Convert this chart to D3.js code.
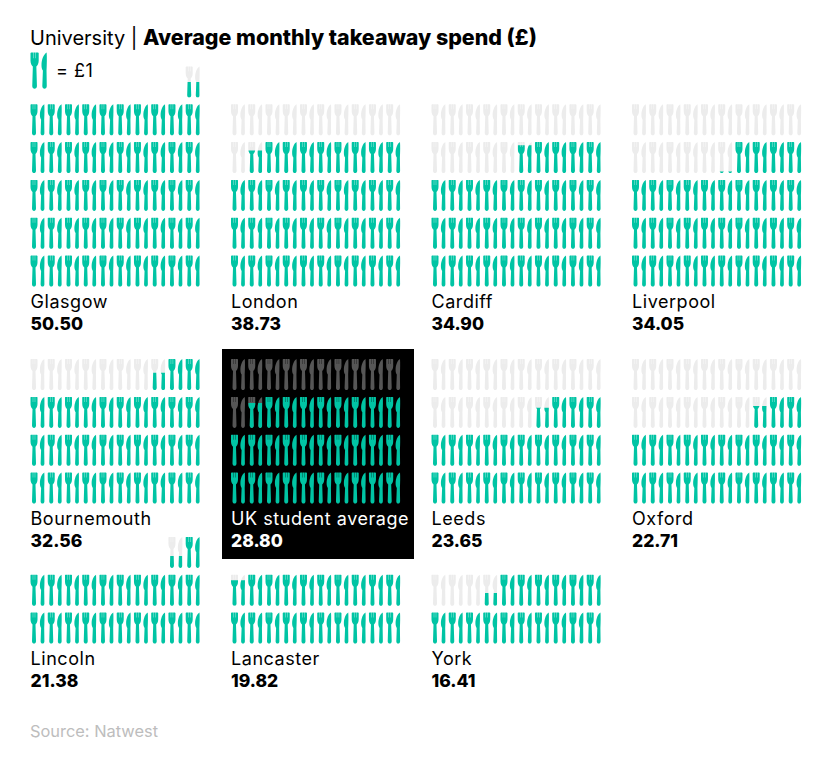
<!DOCTYPE html>
<html>
<head>
<meta charset="utf-8">
<script src="https://cdn.jsdelivr.net/npm/d3@7"></script>
<style>
  html, body { margin: 0; padding: 0; background: #fff; }
  text { font-family: "Inter", "Noto Sans", sans-serif; fill: #000; }
  .label { letter-spacing: 0.55px; }
</style>
</head>
<body>
<div id="chart"></div>
<script>
const FRAME_WIDTH = 830;
const FRAME_HEIGHT = 766;

const UNIVERSITIES = ["Glasgow", "London", "Cardiff", "Liverpool",
                      "Bournemouth", "UK student average", "Leeds", "Oxford",
                      "Lincoln", "Lancaster", "York"];
const SPEND = [50.50, 38.73, 34.90, 34.05,
               32.56, 28.80, 23.65, 22.71,
               21.38, 19.82, 16.41];
const SPEND_LABELS = ["50.50", "38.73", "34.90", "34.05",
                      "32.56", "28.80", "23.65", "22.71",
                      "21.38", "19.82", "16.41"];
// how many panels on each line of the page and how many £10 rows each line pads to
const PANELS_PER_LINE = 4;
const LINE_ROWS = [5, 4, 2];
const HIGHLIGHT = "UK student average";

const TEAL = "#00c4a4";
const GREY = "#ececec";
const GREY_DARK = "#565656";

const ICON_W = 14;
const ICON_H = 31;
const PER_ROW = 10;
const ROW_STEP = 37.8;

// fork and knife in one path, 14 x 31 units
const ICON_PATH = "M0 0.4V7C0 9.6 1.2 11.2 2 12L1.5 28.7C1.5 30.2 2.5 31 3.5 31C4.5 31 5.5 30.2 5.5 28.7L5 12C5.8 11.2 7 9.6 7 7V0.4Q7 0 6.4 0H4.65V5H4.35V0H2.65V5H2.35V0H0.6Q0 0 0 0.4Z"
  + "M13.8 0C11.3 1.4 9.4 6 9.4 10.8C9.4 12.8 9.9 14.4 10.6 15.4L10.1 28.7C10.1 30.2 11 31 12 31C13 31 13.9 30.2 13.9 28.7L13.7 15.5C14 10 14.1 4 13.8 0Z";

const PANEL_X = d3.scalePoint().domain(d3.range(PANELS_PER_LINE)).range([30.5, 632]);
// y of the bottom icon row for each line of panels
const LINE_BOTTOM = d3.scaleOrdinal().domain([0, 1, 2]).range([255.5, 472.5, 612.5]);
const COL_X = d3.scaleLinear().domain([0, PER_ROW - 1]).range([0, 155.2]);
const ROW_Y = d3.scaleLinear().domain([0, 1]).range([0, -ROW_STEP]);
// how far the fill climbs from the foot of an icon
const FILL_Y = d3.scaleLinear().domain([0, 1]).range([ICON_H, 0]);

const SVG = d3.select("#chart")
  .append("svg")
    .attr("width", FRAME_WIDTH)
    .attr("height", FRAME_HEIGHT)
    .style("display", "block");

// title
const title = SVG.append("text")
    .attr("x", 30)
    .attr("y", 45);
title.append("tspan").text("University | ").attr("font-weight", 400).attr("font-size", 20);
title.append("tspan").text("Average monthly takeaway spend (£)").attr("font-weight", 800).attr("font-size", 21.4);

// legend
SVG.append("path")
    .attr("d", ICON_PATH)
    .attr("transform", "translate(30.5,52.5) scale(1.17)")
    .attr("fill", TEAL);
SVG.append("text")
    .attr("class", "label")
    .attr("x", 56)
    .attr("y", 77)
    .attr("font-size", 18)
    .text("= £1");

// highlight box sits behind the average panel
const hlIndex = UNIVERSITIES.indexOf(HIGHLIGHT);
SVG.append("rect")
    .attr("x", PANEL_X(hlIndex % PANELS_PER_LINE) - 9)
    .attr("y", 349)
    .attr("width", 192)
    .attr("height", 210)
    .attr("fill", "#000");

UNIVERSITIES.forEach((name, i) => {
  const col = i % PANELS_PER_LINE;
  const line = Math.floor(i / PANELS_PER_LINE);
  const value = SPEND[i];
  const isDark = name === HIGHLIGHT;

  // icons only pad up to the line's rows, anything over that only gets what it needs
  const count = Math.max(LINE_ROWS[line] * PER_ROW, Math.ceil(value));
  const cells = d3.range(count).map((n) => {
    return {
      col: PER_ROW - 1 - (n % PER_ROW),
      row: Math.floor(n / PER_ROW),
      fill: Math.max(0, Math.min(1, value - n))
    };
  });

  const panel = SVG.append("g")
      .attr("transform", "translate(" + PANEL_X(col) + "," + LINE_BOTTOM(line) + ")");

  const icons = panel.selectAll("g.icon")
    .data(cells)
    .enter()
    .append("g")
      .attr("class", "icon")
      .attr("transform", (d) => "translate(" + COL_X(d.col) + "," + ROW_Y(d.row) + ")");

  // background icon for everything not fully filled
  icons.filter((d) => d.fill < 1)
    .append("path")
      .attr("d", ICON_PATH)
      .attr("fill", isDark ? GREY_DARK : GREY);

  icons.filter((d) => d.fill > 0)
    .each(function (d, k) {
      const g = d3.select(this);
      const icon = g.append("path")
          .attr("d", ICON_PATH)
          .attr("fill", TEAL);
      if (d.fill < 1) {
        const id = "clip-" + i + "-" + k;
        g.append("clipPath")
            .attr("id", id)
          .append("rect")
            .attr("x", 0)
            .attr("y", FILL_Y(d.fill))
            .attr("width", ICON_W)
            .attr("height", ICON_H - FILL_Y(d.fill));
        icon.attr("clip-path", "url(#" + id + ")");
      }
    });

  panel.append("text")
      .attr("class", "label")
      .attr("x", 0)
      .attr("y", 52)
      .attr("font-size", 18)
      .style("fill", isDark ? "#fff" : "#000")
      .text(name);

  panel.append("text")
      .attr("x", 0)
      .attr("y", 74)
      .attr("font-size", 17.5)
      .attr("font-weight", 800)
      .style("fill", isDark ? "#fff" : "#000")
      .text(SPEND_LABELS[i]);
});

SVG.append("text")
    .attr("x", 30)
    .attr("y", 737)
    .attr("font-size", 16.4)
    .style("fill", "#bdbdbd")
    .text("Source: Natwest");
</script>
</body>
</html>
